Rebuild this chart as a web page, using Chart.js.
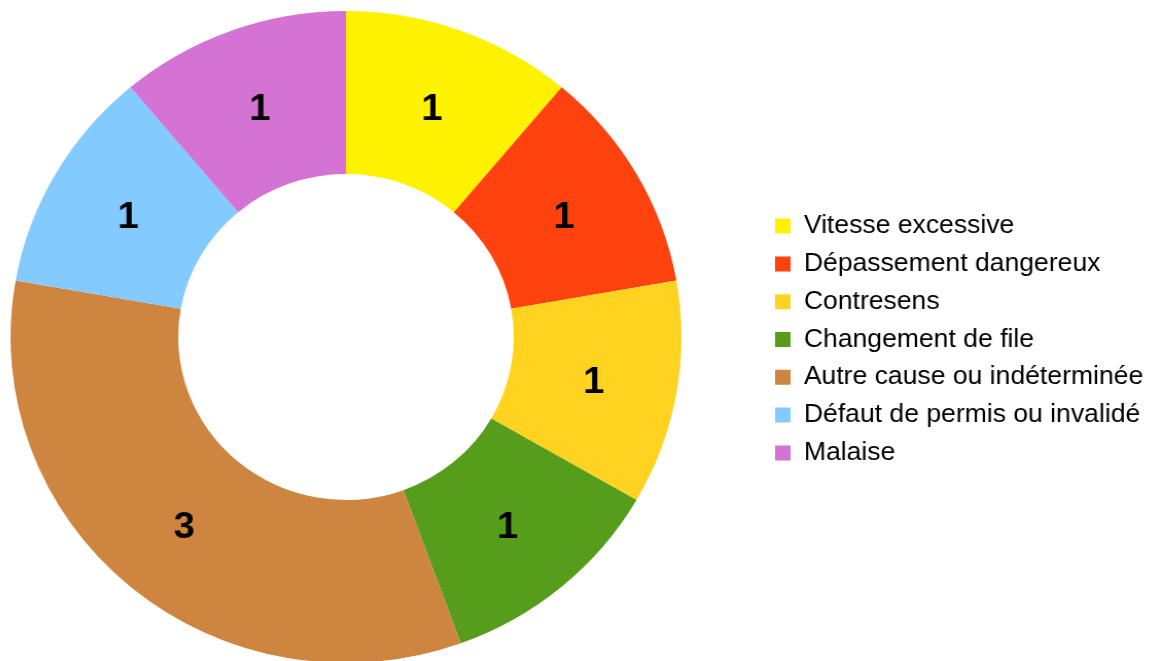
<!DOCTYPE html>
<html lang="fr">
<head>
<meta charset="utf-8">
<title>Causes des accidents</title>
<script src="https://cdn.jsdelivr.net/npm/chart.js@4.4.0/dist/chart.umd.min.js"></script>
<style>
    html, body { margin: 0; padding: 0; background: #fff; overflow: hidden; }
    /* canvas starts 60px left of the page so the ring can sit centred at x=346;
       the original ring is also a little wider than tall */
    .chart-wrap {
        position: absolute;
        left: -60px;
        top: 0;
        width: 1214px;
        height: 680px;
        transform: scaleX(1.029);
        transform-origin: 406px 0;
    }
</style>
</head>
<body>
<div class="chart-wrap"><canvas id="causesChart"></canvas></div>
<script>
const categories = [
    'Vitesse excessive',
    'Dépassement dangereux',
    'Contresens',
    'Changement de file',
    'Autre cause ou indéterminée',
    'Défaut de permis ou invalidé',
    'Malaise'
];
const counts = [1, 1, 1, 1, 3, 1, 1];
const sliceColors = ['#FFF200', '#FF420E', '#FFD320', '#579D1C', '#CE8540', '#83CAFF', '#D473D4'];

(function() {
    'use strict';

    const CANVAS_W = 1214;
    const CENTER_X = 406;        // canvas x of the ring centre
    const LEGEND_BOX_X = 823;    // canvas x of the legend squares (before scaling)
    const LEGEND_PAD = 12;

    Chart.defaults.font.family = '"Liberation Sans", Arial, sans-serif';
    Chart.defaults.color = '#000';

    // value labels in the middle of each slice
    const sliceLabels = {
        id: 'sliceLabels',
        afterDatasetsDraw(chart) {
            const ctx = chart.ctx;
            const meta = chart.getDatasetMeta(0);
            ctx.save();
            ctx.font = 'bold 37px "Liberation Sans", Arial, sans-serif';
            ctx.fillStyle = '#000';
            ctx.textAlign = 'center';
            ctx.textBaseline = 'middle';
            meta.data.forEach((arc, i) => {
                const pos = arc.tooltipPosition();
                ctx.fillText(String(counts[i]), pos.x, pos.y + 3);
            });
            ctx.restore();
        }
    };

    const legendLeft = LEGEND_BOX_X - LEGEND_PAD;
    const areaRight = legendLeft;
    const areaLeft = 2 * CENTER_X - areaRight;

    const chart = new Chart(document.getElementById('causesChart'), {
        type: 'doughnut',
        data: {
            labels: categories,
            datasets: [{
                data: counts,
                backgroundColor: sliceColors,
                borderWidth: 0,
                hoverOffset: 0
            }]
        },
        options: {
            responsive: true,
            maintainAspectRatio: false,
            animation: false,
            cutout: '50%',
            layout: {
                padding: { top: 11, bottom: 17, left: areaLeft, right: 20 }
            },
            plugins: {
                legend: {
                    position: 'right',
                    align: 'center',
                    title: {
                        display: true,
                        text: ' ',
                        padding: 0,
                        font: { size: 4, lineHeight: 1.25 }
                    },
                    labels: {
                        boxWidth: 15,
                        boxHeight: 15,
                        padding: LEGEND_PAD,
                        font: { size: 25.8 },
                        color: '#000'
                    }
                },
                tooltip: { enabled: false }
            }
        },
        plugins: [sliceLabels]
    });

    // place the legend box right after the ring's area
    chart.options.layout.padding.right = CANVAS_W - areaRight - chart.legend.width;
    chart.update();
})();
</script>
</body>
</html>
